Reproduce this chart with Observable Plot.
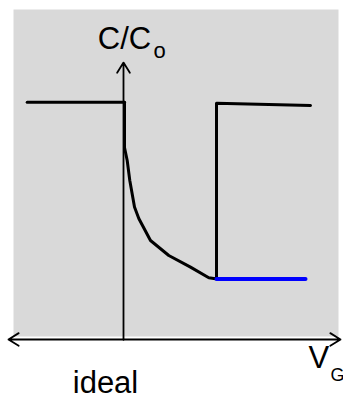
<!DOCTYPE html>
<html>
<head>
<meta charset="utf-8">
<script src="https://cdn.jsdelivr.net/npm/d3@7"></script>
<script src="https://cdn.jsdelivr.net/npm/@observablehq/plot@0.6"></script>
<style>
  html, body { margin: 0; padding: 0; background: #fff; }
  svg { display: block; }
</style>
</head>
<body>
<div id="chart"></div>
<script>
// Ideal C–V curve of an MOS capacitor: normalised capacitance C/Co versus gate voltage VG.
// Voltage in arbitrary units (flat-band at 0), capacitance normalised to the oxide value.
const accumV = [-9.63, 0.1];
const accumC = [1.0, 1.0];

// depletion branch, then the low-frequency return to Co in inversion
const depletionV = [0.1, 0.1, 0.37, 0.63, 1.1, 1.53, 2.7, 4.53, 6.7, 8.53, 9.2, 9.3, 9.3, 18.7];
const depletionC = [1.0, 0.809, 0.754, 0.67, 0.558, 0.51, 0.417, 0.354, 0.305, 0.26, 0.256, 0.256, 0.996, 0.986];

// high-frequency inversion plateau
const inversionV = [9.3, 18.2];
const inversionC = [0.255, 0.255];

// axis extents
const vAxisEnds = [-11.5, 21.7];
const cAxisTop = 1.167;

// centred labels
const centredLabels = [
  {x: 0.1, y: 1.226, text: "C/C", size: 31},
  {x: -1.8, y: -0.2276, text: "ideal", size: 31}
];
// labels placed by their left edge (subscripts follow their base letter)
const leftLabels = [
  {x: 3.0, y: 1.188, text: "o", size: 22},
  {x: 18.5, y: -0.122, text: "V", size: 31},
  {x: 20.7, y: -0.1770, text: "G", size: 18}
];

const toPts = (xs, ys) => xs.map((x, i) => ({x, y: ys[i]}));

const font = "'Liberation Sans', Arial, Helvetica, sans-serif";
const arrowOpts = {x1: "x1", y1: "y1", x2: "x2", y2: "y2", stroke: "#000", strokeWidth: 1.8, headLength: 10, headAngle: 64};

const chart = Plot.plot({
  width: 343,
  height: 397,
  marginLeft: 13,
  marginRight: 5,
  marginTop: 9,
  marginBottom: 61,
  style: {fontFamily: font, background: "#fff", overflow: "visible"},
  x: {domain: [-11, 21.5], axis: null},
  y: {domain: [0.0126, 1.3906], axis: null},
  marks: [
    Plot.frame({fill: "#d9d9d9", stroke: "none"}),
    // axes with open arrow heads
    Plot.arrow([{x1: 0, y1: 0, x2: 0, y2: cAxisTop}], arrowOpts),
    Plot.arrow([{x1: 0, y1: 0, x2: vAxisEnds[1], y2: 0}, {x1: 0, y1: 0, x2: vAxisEnds[0], y2: 0}], arrowOpts),
    // curves
    Plot.line(toPts(accumV, accumC), {x: "x", y: "y", stroke: "#000", strokeWidth: 3, strokeLinejoin: "miter"}),
    Plot.line(toPts(depletionV, depletionC), {x: "x", y: "y", stroke: "#000", strokeWidth: 3, strokeLinejoin: "round"}),
    Plot.line(toPts(inversionV, inversionC), {x: "x", y: "y", stroke: "#0000ff", strokeWidth: 4}),
    // labels
    Plot.text(centredLabels, {x: "x", y: "y", text: "text", fontSize: "size", textAnchor: "middle", lineAnchor: "bottom", fill: "#000"}),
    Plot.text(leftLabels, {x: "x", y: "y", text: "text", fontSize: "size", textAnchor: "start", lineAnchor: "bottom", fill: "#000"})
  ]
});

document.getElementById("chart").appendChild(chart);
</script>
</body>
</html>
